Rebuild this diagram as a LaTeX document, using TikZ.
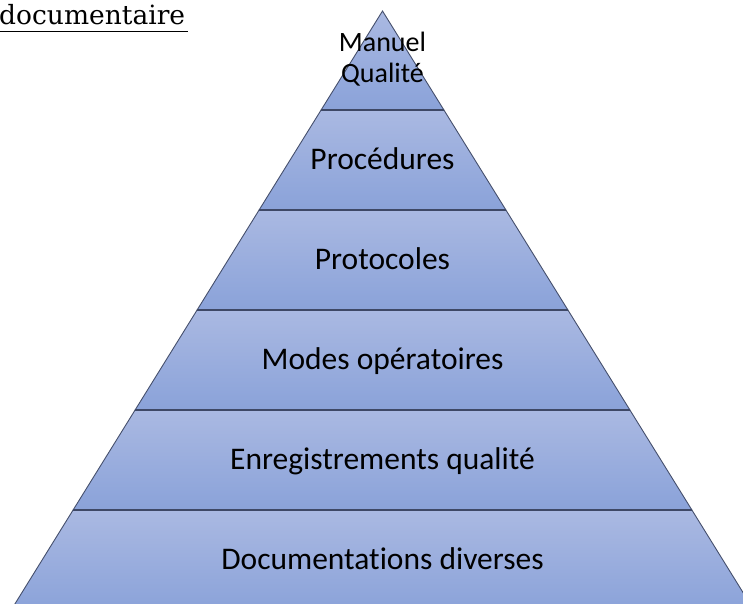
\documentclass[tikz,border=0pt]{standalone}
\usepackage{fontspec}
\setmainfont[Ligatures=CommonOff]{Carlito}
\newfontfamily\titlefont{DejaVu Serif}
\definecolor{bandtop}{HTML}{AAB9E2}
\definecolor{bandbot}{HTML}{8AA2D9}
\definecolor{edgecol}{HTML}{454F6C}
\definecolor{sepcol}{HTML}{3E4866}
\tikzset{
  band/.style={top color=bandtop, bottom color=bandbot, draw=edgecol, line width=0.9pt, line join=miter},
  sepline/.style={draw=sepcol, line width=1.4pt},
  lbl/.style={anchor=base, inner sep=0pt, text=black, font=\fontsize{31.5}{36}\selectfont},
  toplbl/.style={anchor=base, inner sep=0pt, text=black, font=\fontsize{28}{31}\selectfont},
}
\begin{document}
\begin{tikzpicture}[x=1pt,y=-1pt]
\useasboundingbox (0,0) rectangle (743,604);
\clip (0,0) rectangle (743,604);
% corner points of the bands
\coordinate (apex) at (382.5,11);
\coordinate (l1) at (321.1,110); \coordinate (r1) at (443.9,110);
\coordinate (l2) at (259.1,210); \coordinate (r2) at (505.9,210);
\coordinate (l3) at (197.1,310); \coordinate (r3) at (567.9,310);
\coordinate (l4) at (135.1,410); \coordinate (r4) at (629.9,410);
\coordinate (l5) at (73.1,510);  \coordinate (r5) at (691.9,510);
\coordinate (l6) at (9.9,612);   \coordinate (r6) at (755.1,612);
% bands
\path[band] (apex) -- (r1) -- (l1) -- cycle;
\path[band] (l1) -- (r1) -- (r2) -- (l2) -- cycle;
\path[band] (l2) -- (r2) -- (r3) -- (l3) -- cycle;
\path[band] (l3) -- (r3) -- (r4) -- (l4) -- cycle;
\path[band] (l4) -- (r4) -- (r5) -- (l5) -- cycle;
\path[band] (l5) -- (r5) -- (r6) -- (l6) -- cycle;
% separators
\draw[sepline] (l1) -- (r1);
\draw[sepline] (l2) -- (r2);
\draw[sepline] (l3) -- (r3);
\draw[sepline] (l4) -- (r4);
\draw[sepline] (l5) -- (r5);
% labels
\node[toplbl] (manuel) at (382.5,52) {Manuel};
\node[toplbl] (qualite) at (382.5,83) {Qualité};
\node[lbl] (proc) at (382.5,169) {Procédures};
\node[lbl] (prot) at (382.5,269) {Protocoles};
\node[lbl] (modes) at (382.5,369) {Modes opératoires};
\node[lbl] (enreg) at (382.5,469) {Enregistrements qualité};
\node[lbl] (docs) at (382.5,569) {Documentations diverses};
% title fragment
\node[anchor=base west, inner sep=0pt, font=\titlefont\fontsize{26.5}{30}\selectfont] (title) at (-1,25) {documentaire};
\coordinate (ulA) at (0,31.5);
\coordinate (ulB) at (188,31.5);
\draw[line width=1.6pt] (ulA) -- (ulB);
\end{tikzpicture}
\end{document}
